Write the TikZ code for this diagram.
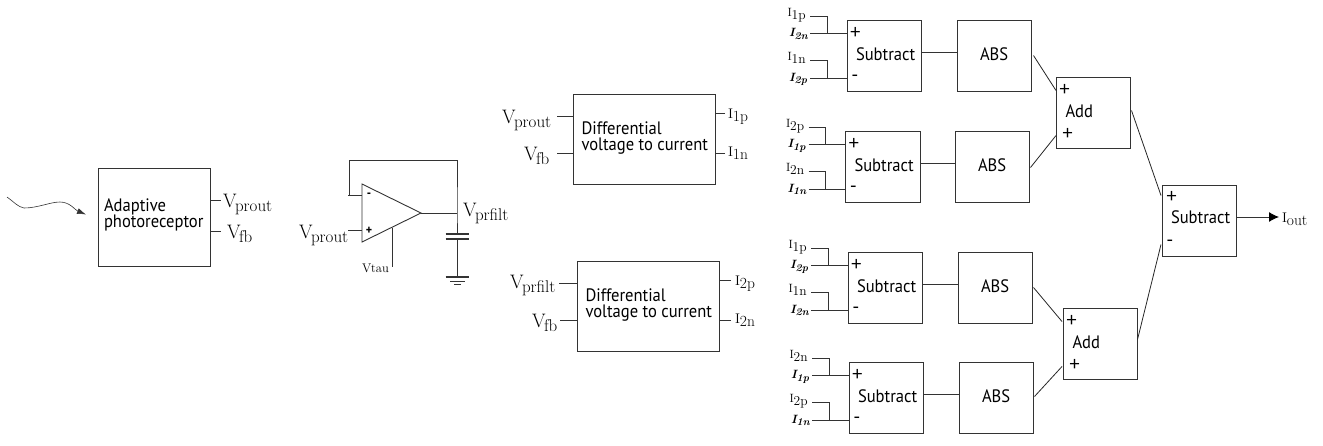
\documentclass[tikz,border=0pt]{standalone}
\usepackage{fontspec}
\usetikzlibrary{arrows.meta,calc}
\newfontfamily\boxfont[FakeStretch=0.92]{PT Sans}
\newfontfamily\signfont{Lato}
\definecolor{ln}{gray}{0.2}
\newcommand{\bigV}[1]{{\fontsize{19.5}{19}\selectfont V\kern-1.5pt\raisebox{-4.5pt}{\fontsize{17}{17}\selectfont #1}}}
\newcommand{\smI}[1]{{\fontsize{14}{14}\selectfont I\raisebox{-3.5pt}{\fontsize{15.5}{15}\selectfont #1}}}
\newcommand{\tnI}[1]{{\fontsize{12}{12}\selectfont I\raisebox{-3pt}{\fontsize{13.5}{13}\selectfont #1}}}
\newcommand{\bdI}[1]{{\fontsize{12}{12}\selectfont\bfseries\itshape I\raisebox{-2.5pt}{\fontsize{10.5}{10}\selectfont #1}}}
\tikzset{
  wire/.style={draw=ln,line width=0.9pt},
  thin wire/.style={draw=black!85,line width=0.8pt},
  block/.style={draw=ln,line width=1pt,fill=none,inner sep=0pt,outer sep=0pt,anchor=north west},
  subblock/.style={block,minimum width=74.5pt,minimum height=71pt},
  lab/.style={inner sep=0pt,outer sep=0pt,anchor=base west},
  boxtxt/.style={lab,font=\boxfont\fontsize{18}{18}\selectfont},
  sign/.style={inner sep=0pt,outer sep=0pt,font=\signfont\fontsize{19}{19}\selectfont}
}
% #1 name, #2 x left, #3 y top, #4-#7 labels, #8 x of ABS
\newcommand{\subblk}[8]{%
  \node[subblock] (#1) at (#2,#3) {};
  \node[subblock] (#1abs) at (#8,#3) {};
  \node[boxtxt] (#1txt) at ($(#1.north west)+(9,40)$) {Subtract};
  \node[boxtxt] (#1abstxt) at ($(#1abs.north west)+(23,40)$) {ABS};
  \node[sign] (#1plus) at ($(#1.north west)+(8.5,12.5)$) {+};
  \node[sign] (#1minus) at ($(#1.north west)+(8,58.5)$) {-};
  \coordinate (#1a) at ($(#1.north west)+(-37,-4)$);
  \coordinate (#1b) at ($(#1.north west)+(-37,13.5)$);
  \coordinate (#1c) at ($(#1.north west)+(-37,40)$);
  \coordinate (#1d) at ($(#1.north west)+(-37,58)$);
  \coordinate (#1j) at ($(#1.north west)+(-20,0)$);
  \coordinate (#1bin) at ($(#1.north west)+(0,13.5)$);
  \coordinate (#1din) at ($(#1.north west)+(0,58)$);
  \draw[wire] (#1a) -- (#1j |- #1a) -- (#1j |- #1b);
  \draw[wire] (#1b) -- (#1bin);
  \draw[wire] (#1c) -- (#1j |- #1c) -- (#1j |- #1d);
  \draw[wire] (#1d) -- (#1din);
  \draw[wire] ($(#1.east)+(0,-3.5)$) -- ($(#1abs.west)+(0,-3.5)$);
  \node[lab] (#1la) at ($(#1a)+(-22.5,0.5)$) {\tnI{#4}};
  \node[lab] (#1lb) at ($(#1b)+(-21,3)$) {\bdI{#5}};
  \node[lab] (#1lc) at ($(#1c)+(-22.5,0.5)$) {\tnI{#6}};
  \node[lab] (#1ld) at ($(#1d)+(-21,3)$) {\bdI{#7}};
}
\begin{document}
\begin{tikzpicture}[x=1pt,y=-1pt]
\useasboundingbox (0,0) rectangle (1323,445);
% Adaptive photoreceptor
\node[block,minimum width=112pt,minimum height=98pt] (pr) at (98,168) {};
\node[boxtxt] (prt1) at (104,211) {Adaptive};
\node[boxtxt] (prt2) at (104,227) {photoreceptor};
\coordinate (prA) at (221,200);
\coordinate (prB) at (221,231);
\draw[wire] (pr.east |- prA) -- (prA);
\draw[wire] (pr.east |- prB) -- (prB);
\node[lab] (prl1) at (223,207) {\bigV{prout}};
\node[lab] (prl2) at (227,238) {\bigV{fb}};
\coordinate (ls) at (7,197);
\coordinate (le) at (86,214.5);
\draw[draw=ln,line width=0.6pt,-{Latex[length=9pt,width=6pt]}] (ls) .. controls (14,202) and (18,207) .. (24,208) .. controls (38,208) and (50,202) .. (60,202) .. controls (70,202) and (75,210) .. (le);
% opamp
\coordinate (oa1) at (362,184);
\coordinate (oa2) at (362,242);
\coordinate (oa3) at (421,213);
\draw[wire,line join=miter] (oa1) -- (oa3) -- (oa2) -- cycle;
\node[sign,font=\boxfont\fontsize{13}{13}\selectfont\bfseries] (oam) at (369,195) {-};
\node[sign,font=\boxfont\fontsize{13}{13}\selectfont\bfseries] (oap) at (369,230.5) {+};
\coordinate (fbn) at (348,195);
\coordinate (inp) at (348,230.5);
\coordinate (nd) at (457,213);
\coordinate (ct) at (457,234);
\coordinate (cb) at (457,239);
\coordinate (gn) at (457,277);
\draw[wire] (fbn) -- (oa1 |- fbn);
\draw[wire] (inp) -- (oa1 |- inp);
\draw[wire] (349.5,195) -- (349.5,160.5) -- (457,160.5) -- (nd) -- (ct);
\draw[wire] (oa3) -- (nd);
\draw[wire] (cb) -- (gn);
\draw[wire,line width=1.2pt] (445.5,234) -- (469,234);
\draw[wire,line width=1.2pt] (445.5,239) -- (469,239);
\draw[wire,line width=1.2pt] (445.5,277) -- (469,277);
\draw[wire] (450,281) -- (465,281);
\draw[wire] (454,284.5) -- (461,284.5);
\coordinate (vt) at (392,267);
\draw[wire] (392,228) -- (vt);
\node[lab] (vtau) at (362,272) {\fontsize{12.5}{12}\selectfont Vtau};
\node[lab] (oal1) at (299,238) {\bigV{prout}};
\node[lab] (oal2) at (463,216) {\bigV{prfilt}};
% differential 1
\node[block,minimum width=142pt,minimum height=90pt] (d1) at (573,94) {};
\node[boxtxt] (d1t1) at (581.5,134) {Differential};
\node[boxtxt] (d1t2) at (581.5,150) {voltage to current};
\draw[wire] (557,116) coordinate (d1a) -- (d1.west |- d1a);
\draw[wire] (557,153) coordinate (d1b) -- (d1.west |- d1b);
\draw[wire] (725,113) coordinate (d1c) -- (d1.east |- d1c);
\draw[wire] (725,153) coordinate (d1d) -- (d1.east |- d1d);
\node[lab] (d1l1) at (502,123) {\bigV{prout}};
\node[lab] (d1l2) at (524,160) {\bigV{fb}};
\node[lab] (d1l3) at (728,118) {\smI{1p}};
\node[lab] (d1l4) at (728,156) {\smI{1n}};
% differential 2
\node[block,minimum width=142pt,minimum height=90pt] (d2) at (577,261) {};
\node[boxtxt] (d2t1) at (585.5,301) {Differential};
\node[boxtxt] (d2t2) at (585.5,317) {voltage to current};
\draw[wire] (559,283) coordinate (d2a) -- (d2.west |- d2a);
\draw[wire] (560,320) coordinate (d2b) -- (d2.west |- d2b);
\draw[wire] (731,280) coordinate (d2c) -- (d2.east |- d2c);
\draw[wire] (731,320) coordinate (d2d) -- (d2.east |- d2d);
\node[lab] (d2l1) at (510,288) {\bigV{prfilt}};
\node[lab] (d2l2) at (532,327) {\bigV{fb}};
\node[lab] (d2l3) at (735,285) {\smI{2p}};
\node[lab] (d2l4) at (735,323) {\smI{2n}};
% subtract + ABS
\subblk{s}{847}{20}{1p}{2n}{1n}{2p}{957}
\subblk{t}{845.5}{131}{2p}{1p}{2n}{1n}{955}
\subblk{u}{848}{252}{1p}{2p}{1n}{2n}{958}
\subblk{v}{849}{362}{2n}{1p}{2p}{1n}{959}
% Add
\node[subblock] (a1) at (1056,77) {};
\node[subblock] (a2) at (1063,308) {};
\node[subblock] (o) at (1162,185) {};
\foreach \n in {a1,a2}{
  \node[boxtxt] (\n t) at ($(\n.north west)+(9.5,40)$) {Add};
  \node[sign] (\n p) at ($(\n.north west)+(8.5,12.5)$) {+};
  \node[sign] (\n q) at ($(\n.north west)+(11.5,56.5)$) {+};
}
\node[boxtxt] (ot) at ($(o.north west)+(9,38.5)$) {Subtract};
\node[sign] (op) at ($(o.north west)+(9.5,11.5)$) {+};
\node[sign] (om) at ($(o.north west)+(8,58)$) {-};
% connectors
\draw[thin wire] ($(sabs.east)+(2,0)$) -- ($(a1.west)+(0,-22)$);
\draw[thin wire] ($(tabs.east)+(1,1)$) -- ($(a1.west)+(0,23)$);
\draw[thin wire] ($(uabs.east)+(1,0)$) -- ($(a2.west)+(-1,-22)$);
\draw[thin wire] ($(vabs.east)+(1,-1)$) -- ($(a2.west)+(-1,23)$);
\draw[thin wire] ($(a1.east)+(1,-2)$) -- ($(o.west)+(-1,-25)$);
\draw[thin wire] ($(a2.east)+(0,-4)$) -- ($(o.west)+(-1,24)$);
\coordinate (oe) at (1279,217);
\draw[wire,line width=1pt,-{Latex[length=10pt,width=10pt,black]}] (o.east |- oe) -- (oe);
\node[lab] (ol) at (1282,222) {\smI{out}};
\end{tikzpicture}
\end{document}
